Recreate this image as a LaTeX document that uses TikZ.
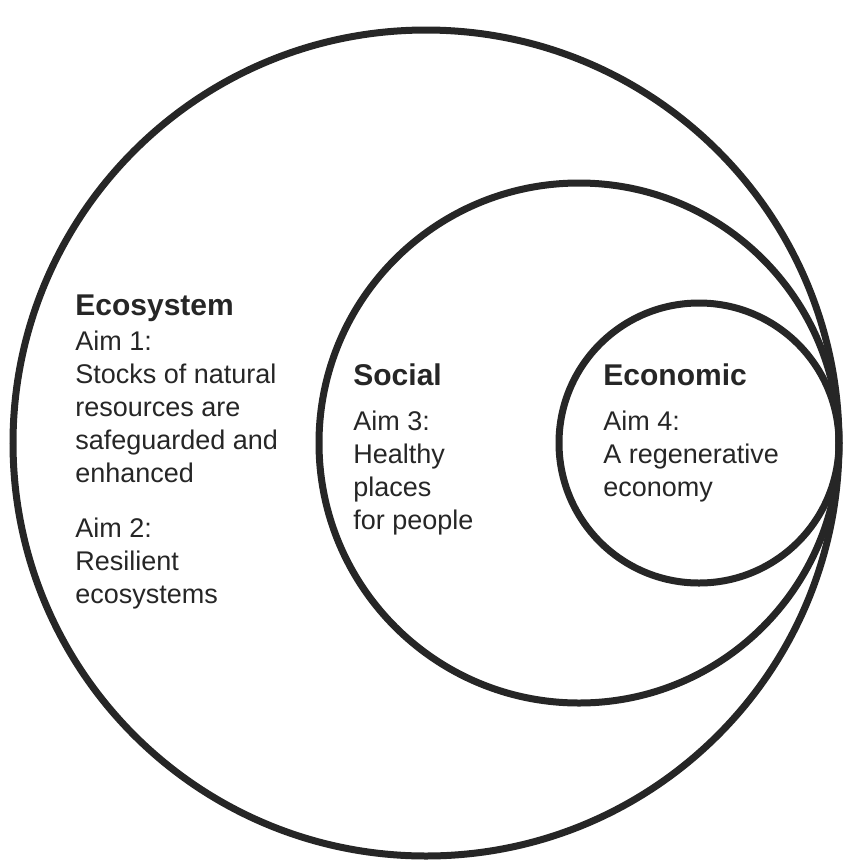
\documentclass[tikz,border=0pt]{standalone}
\usepackage{fontspec}
\setmainfont{Liberation Sans}
\usepackage{tikz}
\usetikzlibrary{positioning}

\begin{document}
\begin{tikzpicture}[x=0.5pt, y=-0.5pt,
    ring/.style={circle, draw=black!85, line width=3.5pt, inner sep=0pt},
    head/.style={anchor=base west, inner sep=0pt, text=black!85, font=\fontsize{15}{18}\selectfont\bfseries},
    body/.style={anchor=base west, inner sep=0pt, text=black!85, align=left, font=\fontsize{13.5}{16.5}\selectfont}]

  \useasboundingbox (0,0) rectangle (844,864);

  % Circles
  \node[ring, minimum size=413pt] (Eco) at (426,443) {};
  \node[ring, minimum size=260pt] (Soc) at (579,443) {};
  \node[ring, minimum size=140pt] (Econ) at (699,443) {};

  % Labels (body nodes sit on the baseline of their last line)
  \node[head] (EcoHead) at (75,315) {Ecosystem};
  \node[body] (EcoAim1) at (75,482) {Aim 1:\\Stocks of natural\\resources are\\safeguarded and\\enhanced};
  \node[body] (EcoAim2) at (75,603) {Aim 2:\\Resilient\\ecosystems};

  \node[head] (SocHead) at (353,385) {Social};
  \node[body] (SocAim3) at (353,529) {Aim 3:\\Healthy\\places\\for people};

  \node[head] (EconHead) at (603,385) {Economic};
  \node[body] (EconAim4) at (603,496) {Aim 4:\\A regenerative\\economy};

\end{tikzpicture}
\end{document}
